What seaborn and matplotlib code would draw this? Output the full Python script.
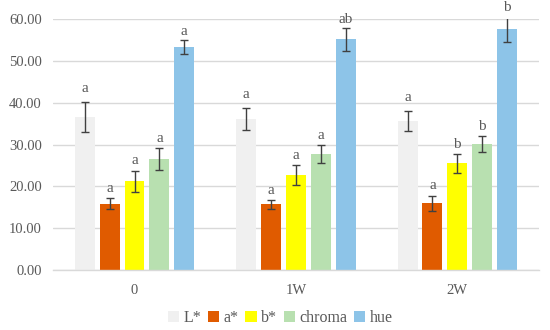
import numpy as np
import pandas as pd
import matplotlib
matplotlib.use("Agg")
import matplotlib.pyplot as plt
import seaborn as sns

# ---- data ----
categories = ["0", "1W", "2W"]
series = ["L*", "a*", "b*", "chroma", "hue"]
L_vals = [36.5, 36.1, 35.6]
a_vals = [15.8, 15.7, 16.0]
b_vals = [21.2, 22.7, 25.5]
chroma_vals = [26.5, 27.7, 30.2]
hue_vals = [53.3, 55.2, 57.6]
L_err = [3.6, 2.7, 2.4]
a_err = [1.3, 1.1, 1.8]
b_err = [2.5, 2.3, 2.2]
chroma_err = [2.6, 2.2, 1.9]
hue_err = [1.65, 2.75, 3.1]
L_letters = ["a", "a", "a"]
a_letters = ["a", "a", "a"]
b_letters = ["a", "a", "b"]
chroma_letters = ["a", "a", "b"]
hue_letters = ["a", "ab", "b"]
y_ticks = [0, 10, 20, 30, 40, 50, 60]

colors = ["#F0F0F0", "#E05B00", "#FFFF00", "#B8E0B0", "#8DC4E8"]

values = [L_vals, a_vals, b_vals, chroma_vals, hue_vals]
errs = [L_err, a_err, b_err, chroma_err, hue_err]
letters = [L_letters, a_letters, b_letters, chroma_letters, hue_letters]
label_offsets = [3.2, 2.3, 2.4, 2.3, 2.0]

rows = []
for s, vals in zip(series, values):
    for c, v in zip(categories, vals):
        rows.append({"category": c, "series": s, "value": v})
df = pd.DataFrame(rows)

sns.set_style("white")
plt.rcParams["font.family"] = ["Liberation Serif", "DejaVu Serif"]

fig = plt.figure(figsize=(5.5, 3.3), dpi=100)
ax = fig.add_axes([0.096, 0.182, 0.884, 0.76])

sns.barplot(data=df, x="category", y="value", hue="series",
            order=categories, hue_order=series, palette=colors,
            width=0.77, gap=0.2, errorbar=None, ax=ax, zorder=2,
            linewidth=0, saturation=1)

txt_color = "#595959"
bar_containers = list(ax.containers)
for i, cont in enumerate(bar_containers):
    xs = [p.get_x() + p.get_width() / 2 for p in cont.patches]
    hs = [p.get_height() for p in cont.patches]
    ax.errorbar(xs, hs, yerr=errs[i], fmt="none", ecolor="#404040",
                elinewidth=1.0, capsize=3.2, capthick=1.0, zorder=3)
    for x, h, e, lab in zip(xs, hs, errs[i], letters[i]):
        ax.text(x, h + e + label_offsets[i], lab, ha="center", va="center",
                fontsize=11, color=txt_color, clip_on=False)

ax.set_ylim(0, 60)
ax.set_yticks(y_ticks)
ax.set_yticklabels([f"{t:.2f}" for t in y_ticks])
ax.grid(axis="y", color="#D9D9D9", linewidth=1.0, zorder=0)
ax.set_axisbelow(True)
for sp in ["top", "right", "left"]:
    ax.spines[sp].set_visible(False)
ax.spines["bottom"].set_color("#D9D9D9")
ax.spines["bottom"].set_linewidth(1.0)
ax.tick_params(axis="both", length=0, labelsize=10.5, colors=txt_color, pad=8)
ax.tick_params(axis="x", pad=10)
ax.set_xlabel("")
ax.set_ylabel("")

handles, labels = ax.get_legend_handles_labels()
ax.get_legend().remove()
fig.legend(handles, labels, loc="center", bbox_to_anchor=(0.51, 0.037),
           ncol=5, frameon=False, labelcolor=txt_color,
           prop={"family": ["Liberation Serif", "DejaVu Serif"], "size": 11.5},
           handlelength=0.7, handleheight=0.7, handletextpad=0.3,
           columnspacing=0.4)

fig.savefig("out.png", dpi=100)
